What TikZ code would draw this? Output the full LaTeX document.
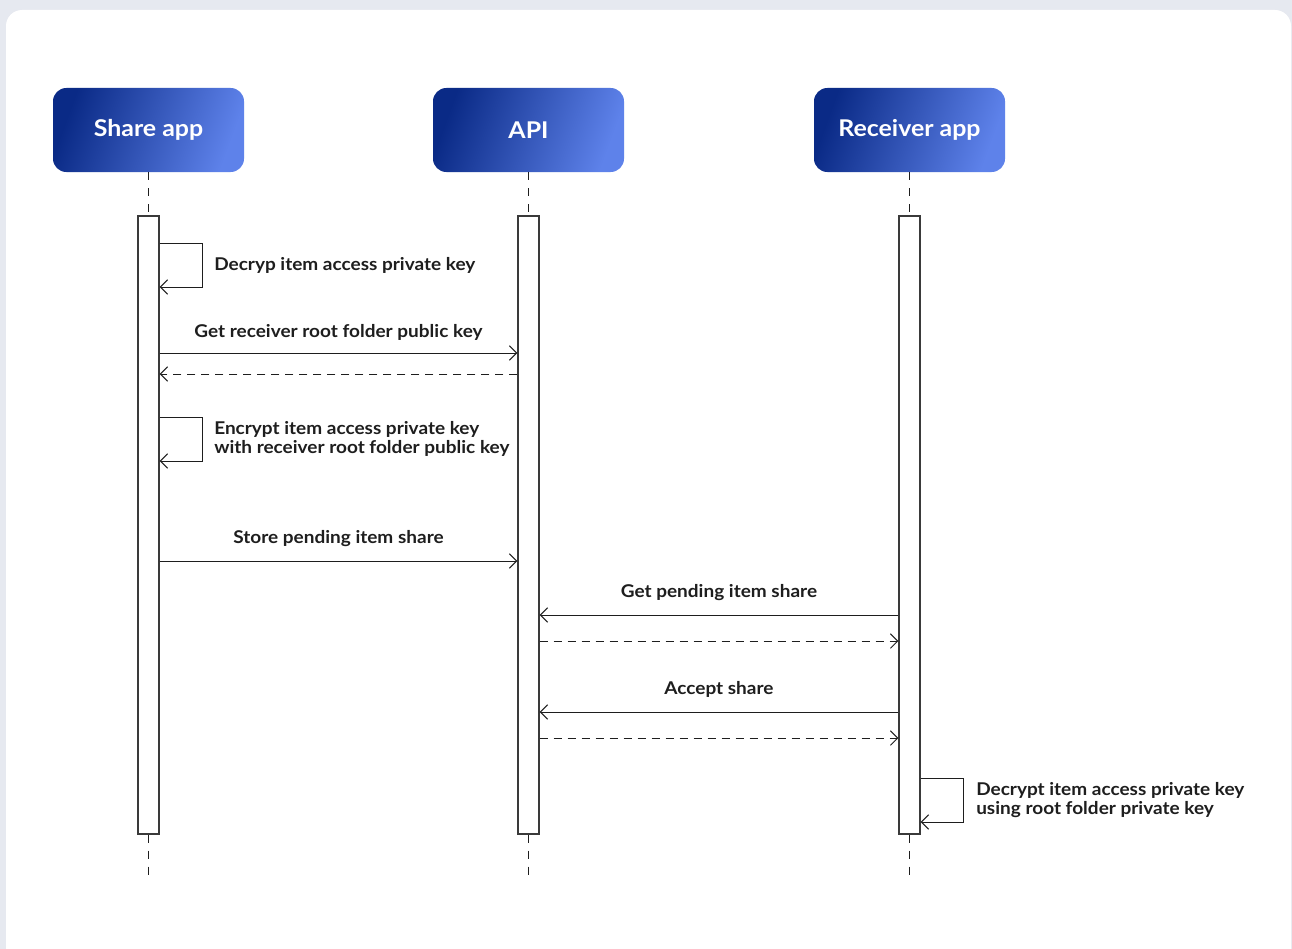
\documentclass[tikz,border=0pt]{standalone}
\usepackage{fontspec}
\setmainfont{Lato}[FakeStretch=1.08]
\usetikzlibrary{arrows.meta,calc}
\definecolor{bg}{HTML}{E6E9F0}
\definecolor{dk}{HTML}{0A2A86}
\definecolor{lt}{HTML}{5E82EA}
\definecolor{ln}{HTML}{1E1E1E}
\definecolor{barln}{HTML}{3A3A3A}
\begin{document}
\begin{tikzpicture}[x=0.75pt,y=-0.75pt,
  hdr/.style={rounded corners=10pt, minimum width=143.25pt, minimum height=63pt,
    inner sep=0pt, text=white, font=\fontsize{17.3}{20}\selectfont\bfseries,
    left color=dk, right color=lt, shading angle=70},
  actbar/.style={draw=barln, line width=0.9pt, fill=white, minimum width=15.75pt,
    minimum height=463.5pt, inner sep=0pt},
  life/.style={draw=ln, line width=0.8pt, dash pattern=on 6pt off 6pt},
  msg/.style={draw=ln, line width=0.75pt, -{Straight Barb[length=5.5pt,width=11pt,line width=0.75pt]}},
  ret/.style={msg, dash pattern=on 6pt off 4.5pt},
  lbl/.style={font=\fontsize{13.2}{14.25}\selectfont\bfseries, text=ln, inner sep=0pt},
]
\useasboundingbox (0,0) rectangle (1292,949);
\fill[bg] (0,0) rectangle (1292,949);
\fill[white, rounded corners=12pt] (6,10) rectangle (1291,965);

% headers
\node[hdr] (hs) at (148.5,130) {Share app};
\node[hdr] (ha) at (528.5,130) {API};
\node[hdr] (hr) at (909.5,130) {Receiver app};

% activation bars
\node[actbar] (bs) at (148.5,525) {};
\node[actbar] (ba) at (528.5,525) {};
\node[actbar] (br) at (909.5,525) {};

% lifelines
\coordinate (es) at (148.5,878);
\coordinate (ea) at (528.5,878);
\coordinate (er) at (909.5,878);
\draw[life] (hs.south) -- (bs.north);
\draw[life] (ha.south) -- (ba.north);
\draw[life] (hr.south) -- (br.north);
\draw[life] (bs.south) -- (es);
\draw[life] (ba.south) -- (ea);
\draw[life] (br.south) -- (er);

% y levels
\coordinate (s1a) at (0,243); \coordinate (s1b) at (0,287);
\coordinate (m2) at (0,353); \coordinate (m3) at (0,374);
\coordinate (s4a) at (0,417); \coordinate (s4b) at (0,461);
\coordinate (m5) at (0,561);
\coordinate (m6) at (0,615); \coordinate (m7) at (0,641);
\coordinate (m8) at (0,712); \coordinate (m9) at (0,738);
\coordinate (s10a) at (0,778); \coordinate (s10b) at (0,822);

% self call 1
\draw[msg] (bs.east |- s1a) -- ++(43,0) |- (bs.east |- s1b);
\node[lbl, anchor=west] (l1) at (214,265) {Decryp item access private key};

% message 2 & return
\draw[msg] (bs.east |- m2) -- (ba.west |- m2);
\node[lbl] (l2) at (338.5,332) {Get receiver root folder public key};
\draw[ret] (ba.west |- m3) -- (bs.east |- m3);

% self call 4
\draw[msg] (bs.east |- s4a) -- ++(43,0) |- (bs.east |- s4b);
\node[lbl, anchor=west, align=left] (l4) at (214,438.5) {Encrypt item access private key\\with receiver root folder public key};

% message 5
\draw[msg] (bs.east |- m5) -- (ba.west |- m5);
\node[lbl] (l5) at (338.5,539) {Store pending item share};

% message 6 & return
\draw[msg] (br.west |- m6) -- (ba.east |- m6);
\node[lbl] (l6) at (719,593) {Get pending item share};
\draw[ret] (ba.east |- m7) -- (br.west |- m7);

% message 8 & return
\draw[msg] (br.west |- m8) -- (ba.east |- m8);
\node[lbl] (l8) at (719,689) {Accept share};
\draw[ret] (ba.east |- m9) -- (br.west |- m9);

% self call 10
\draw[msg] (br.east |- s10a) -- ++(43,0) |- (br.east |- s10b);
\node[lbl, anchor=west, align=left] (l10) at (976,800.5) {Decrypt item access private key\\using root folder private key};
\end{tikzpicture}
\end{document}
